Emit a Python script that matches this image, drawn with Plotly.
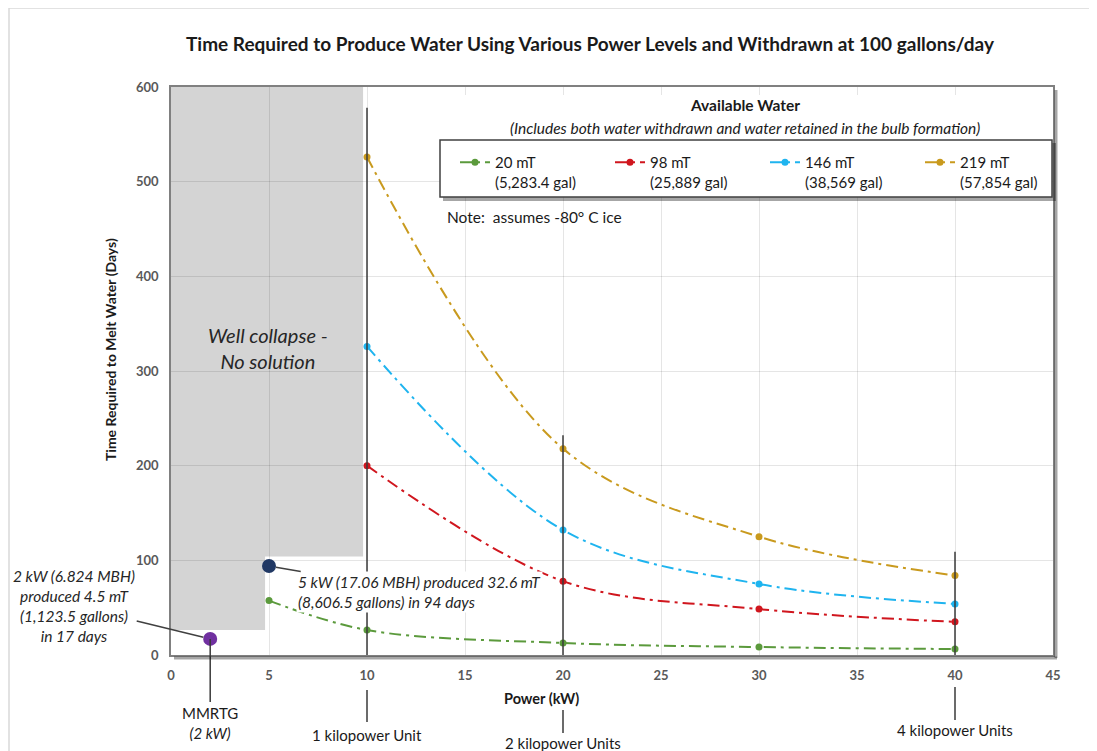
import plotly.graph_objects as go

# ---------------- data ----------------
series_names = ["20 mT", "98 mT", "146 mT", "219 mT"]
series_gallons = ["(5,283.4 gal)", "(25,889 gal)", "(38,569 gal)", "(57,854 gal)"]
power_20mt = [5, 10, 20, 30, 40]
days_20mt = [57.5, 26.4, 12.7, 8.4, 6.3]
power_98mt = [10, 20, 30, 40]
days_98mt = [200, 78, 48.5, 35]
power_146mt = [10, 20, 30, 40]
days_146mt = [326, 132, 75, 54]
power_219mt = [10, 20, 30, 40]
days_219mt = [526, 218, 125, 84]
series_colors = ["#5b9a3c", "#d0161e", "#1fb4ef", "#c99a1e"]

highlight_power = [2, 5]
highlight_days = [17, 94]
highlight_colors = ["#7030a0", "#203864"]

ref_power = [2, 10, 20, 40]
ref_top_days = [17, 578, 232, 109]
ref_labels = ["MMRTG<br><i>(2 kW)</i>", "1 kilopower Unit", "2 kilopower Units", "4 kilopower Units"]

collapse_power = [0, 4.8, 4.8, 9.8, 9.8, 0]
collapse_days = [26.5, 26.5, 104, 104, 600, 600]

x_ticks = list(range(0, 50, 5))
y_ticks = list(range(0, 700, 100))

FONT = "Lato"
OFF = 8  # page body margin
W, H = 1097 - OFF, 751 - OFF
# plot area in window pixels
PL, PR, PT, PB = 171, 1053, 87, 655
ML, MR, MT, MB = PL - OFF, W - (PR - OFF), PT - OFF, H - (PB - OFF)


def px(xp):
    return (xp - PL) / (PR - PL)


def py(yp):
    return (PB - yp) / (PB - PT)


fig = go.Figure()

all_x = [power_20mt, power_98mt, power_146mt, power_219mt]
all_y = [days_20mt, days_98mt, days_146mt, days_219mt]
for name, gal, xs, ys, col in zip(series_names, series_gallons, all_x, all_y, series_colors):
    fig.add_trace(go.Scatter(
        x=xs, y=ys, mode="lines+markers", name=f"{name}<br>{gal}",
        line=dict(color=col, width=2, dash="12px,5px,3px,5px", shape="spline"),
        marker=dict(color=col, size=7),
    ))

for xv, yv, col in zip(highlight_power, highlight_days, highlight_colors):
    fig.add_trace(go.Scatter(x=[xv], y=[yv], mode="markers", showlegend=False,
                             marker=dict(color=col, size=14)))

shapes = []
# well collapse region
path = "M " + " L ".join(f"{a},{b}" for a, b in zip(collapse_power, collapse_days)) + " Z"
shapes.append(dict(type="path", path=path, xref="x", yref="y", layer="below",
                   fillcolor="#d4d4d4", line=dict(width=0)))

# reference vertical lines
seg_below = {2: (0.0, py(702)), 10: (py(690), py(722)), 20: (py(710), py(733)), 40: (py(687), py(720))}
label_y = {2: py(723), 10: py(735), 20: py(743), 40: py(730)}
for xv, top in zip(ref_power, ref_top_days):
    shapes.append(dict(type="line", xref="x", yref="y", x0=xv, x1=xv, y0=0, y1=top,
                       line=dict(color="#3a3a3a", width=1.5), layer="above"))
    y0, y1 = seg_below[xv]
    shapes.append(dict(type="line", xref="x", yref="paper", x0=xv, x1=xv, y0=y0, y1=y1,
                       line=dict(color="#3a3a3a", width=1.5)))

# plot shadow
shapes.append(dict(type="line", xref="paper", yref="paper", x0=px(174), x1=px(1057),
                   y0=py(658), y1=py(658), line=dict(color="rgba(0,0,0,0.35)", width=3)))
shapes.append(dict(type="line", xref="paper", yref="paper", x0=px(1056), x1=px(1056),
                   y0=py(90), y1=py(658), line=dict(color="rgba(0,0,0,0.35)", width=3)))

# legend title white box
shapes.append(dict(type="rect", xref="paper", yref="paper", x0=px(440), x1=px(1052),
                   y0=py(140), y1=py(95), fillcolor="white", line=dict(width=0), layer="above"))
# legend shadow & box
shapes.append(dict(type="rect", xref="paper", yref="paper", x0=px(443), x1=px(1056),
                   y0=py(201), y1=py(143), fillcolor="rgba(0,0,0,0.35)", line=dict(width=0), layer="above"))
shapes.append(dict(type="rect", xref="paper", yref="paper", x0=px(440), x1=px(1052),
                   y0=py(197), y1=py(140), fillcolor="white",
                   line=dict(color="#404040", width=1.5), layer="above"))
# outer chart border
shapes.append(dict(type="rect", xref="paper", yref="paper", x0=px(9), x1=px(1120),
                   y0=py(780), y1=py(8), line=dict(color="#d9d9d9", width=1.5)))

C = dict(xanchor="center", yanchor="middle", showarrow=False)
annotations = []
annotations.append(dict(text="<b>Time Required to Produce Water Using Various Power Levels and Withdrawn at 100 gallons/day</b>",
                        xref="paper", yref="paper", x=px(590), y=py(44), **C,
                        font=dict(family=FONT, size=19, color="#1a1a1a")))
annotations.append(dict(text="<b>Time Required to Melt Water (Days)</b>", textangle=-90,
                        xref="paper", yref="paper", x=px(110), y=py(350), **C,
                        font=dict(family=FONT, size=14, color="#1a1a1a")))
annotations.append(dict(text="<b>Power (kW)</b>", xref="paper", yref="paper", x=px(541), y=py(698),
                        **C, font=dict(family=FONT, size=14.5, color="#1a1a1a")))
annotations.append(dict(text="<b>Available Water</b>", xref="paper", yref="paper", x=px(745), y=py(105),
                        **C, font=dict(family=FONT, size=15.5, color="#1a1a1a")))
annotations.append(dict(text="<i>(Includes both water withdrawn and water retained in the bulb formation)</i>",
                        xref="paper", yref="paper", x=px(745), y=py(128),
                        **C, font=dict(family=FONT, size=15.5, color="#1a1a1a")))
annotations.append(dict(text="Note:  assumes -80° C ice", xref="paper", yref="paper", x=px(445), y=py(217),
                        xanchor="left", yanchor="middle", showarrow=False,
                        font=dict(family=FONT, size=15.5, color="#1a1a1a")))
annotations.append(dict(text="<i>Well collapse -<br>No solution</i>", xref="x", yref="y", x=4.95, y=324,
                        **C, font=dict(family=FONT, size=20, color="#262626")))
annotations.append(dict(text="<i>2 kW (6.824 MBH)<br>produced 4.5 mT<br>(1,123.5 gallons)<br>in 17 days</i>",
                        xref="x", yref="y", x=highlight_power[0], y=highlight_days[0],
                        ax=73 - 209, ay=604 - 637, showarrow=True, arrowhead=0, arrowwidth=1.5,
                        arrowcolor="#404040", standoff=7, bgcolor="white",
                        font=dict(family=FONT, size=15.5, color="#262626")))
annotations.append(dict(text="<i>5 kW (17.06 MBH) produced 32.6 mT<br>(8,606.5 gallons) in 94 days</i>",
                        xref="x", yref="y", x=highlight_power[1], y=highlight_days[1],
                        ax=419 - 269, ay=590 - 564, showarrow=True, arrowhead=0, arrowwidth=1.5,
                        arrowcolor="#404040", standoff=7, bgcolor="white", align="left",
                        font=dict(family=FONT, size=15.5, color="#262626")))
for xv, lab in zip(ref_power, ref_labels):
    annotations.append(dict(text=lab, xref="x", yref="paper", x=xv, y=label_y[xv], **C,
                            font=dict(family=FONT, size=15, color="#1a1a1a")))

axis_common = dict(showline=True, mirror=True, linecolor="#808080", linewidth=1.5,
                   showgrid=True, gridcolor="rgba(0,0,0,0.10)", gridwidth=1, zeroline=False,
                   tickfont=dict(family=FONT, size=13, color="#595959", weight="bold"),
                   ticks="", ticklabelstandoff=8)

fig.update_layout(
    width=W, height=H,
    margin=dict(l=ML, r=MR, t=MT, b=MB),
    paper_bgcolor="white", plot_bgcolor="white",
    font=dict(family=FONT, color="#1a1a1a"),
    xaxis=dict(range=[0, 45], tickvals=x_ticks, **axis_common),
    yaxis=dict(range=[0, 600], tickvals=y_ticks, **axis_common),
    showlegend=True,
    legend=dict(orientation="h", x=px(455), y=py(146), xanchor="left", yanchor="top",
                bgcolor="rgba(0,0,0,0)", borderwidth=0, valign="top",
                entrywidth=110, entrywidthmode="pixels", tracegroupgap=0,
                font=dict(family=FONT, size=15, color="#1a1a1a")),
    shapes=shapes, annotations=annotations,
)

fig.write_html("out.html")
